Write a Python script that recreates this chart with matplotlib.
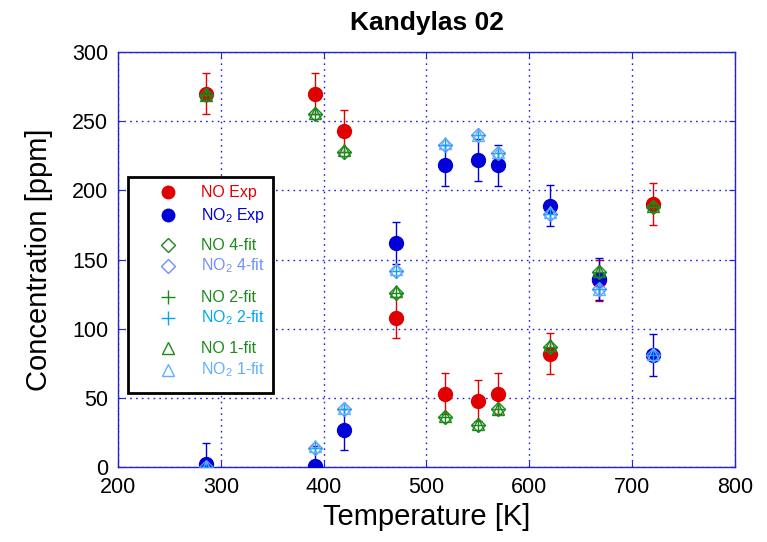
import matplotlib.pyplot as plt
from matplotlib.patches import Rectangle

plt.rcParams['font.family'] = ['Liberation Sans', 'DejaVu Sans']
plt.rcParams['mathtext.fontset'] = 'custom'
plt.rcParams['mathtext.rm'] = 'Liberation Sans'
plt.rcParams['mathtext.it'] = 'Liberation Sans'

# ---- data ----
temp = [286, 392, 420, 470, 518, 550, 570, 620, 668, 720]
no_exp = [270, 270, 243, 108, 53, 48, 53, 82, 135, 190]
no2_exp = [2, 0.5, 27, 162, 218, 222, 218, 189, 136, 81]
err = [15, 15, 15, 15, 15, 15, 15, 15, 15, 15]
no_fit4 = [269, 255, 228, 126, 36, 30, 42, 87, 141, 188]
no2_fit4 = [0, 14, 42, 142, 233, 240, 227, 183, 129, 81]
no_fit2 = [269, 255, 228, 126, 36, 30, 42, 87, 141, 188]
no2_fit2 = [0, 14, 42, 142, 233, 240, 227, 183, 129, 81]
no_fit1 = [269, 256, 229, 127, 37, 31, 42, 88, 142, 189]
no2_fit1 = [0, 15, 43, 143, 234, 240, 228, 184, 129, 82]

red = '#e00000'
blue = '#0000d8'
green = '#1a8a1a'
lblue4 = '#7090ff'
cyan2 = '#00a8f0'
lblue1 = '#60b0ff'
gridc = '#2020e0'

fig = plt.figure(figsize=(7.67, 5.42), dpi=100)
ax = fig.add_axes([0.1538, 0.1384, 0.8045, 0.7656])

# experiments with error bars
ax.errorbar(temp, no_exp, yerr=err, fmt='o', color=red, ecolor=red, ms=10,
            elinewidth=1, capsize=3, zorder=3)
ax.errorbar(temp, no2_exp, yerr=err, fmt='o', color=blue, ecolor=blue, ms=10,
            elinewidth=1, capsize=3, zorder=3)

# fits
ax.plot(temp, no_fit4, 'D', mfc='none', mec=green, ms=7, mew=1, zorder=4)
ax.plot(temp, no2_fit4, 'D', mfc='none', mec=lblue4, ms=7, mew=1, zorder=4)
ax.plot(temp, no_fit2, '+', color=green, ms=10, mew=1, zorder=4)
ax.plot(temp, no2_fit2, '+', color=cyan2, ms=10, mew=1, zorder=4)
ax.plot(temp, no_fit1, '^', mfc='none', mec=green, ms=9, mew=1, zorder=4)
ax.plot(temp, no2_fit1, '^', mfc='none', mec=lblue1, ms=9, mew=1, zorder=4)

ax.set_xlim(200, 800)
ax.set_ylim(0, 300)
ax.set_xticks(range(200, 801, 100))
ax.set_yticks(range(0, 301, 50))
ax.grid(True, color=gridc, linestyle=(0, (1.2, 3)), linewidth=1)
ax.set_axisbelow(True)
for s in ax.spines.values():
    s.set_color(gridc)
    s.set_linewidth(1)
ax.tick_params(direction='in', length=4, color=gridc, labelsize=15.5,
               top=True, right=True, labelcolor='black', pad=7)

ax.set_title('Kandylas 02', fontsize=19, fontweight='bold', pad=16)
ax.set_xlabel('Temperature [K]', fontsize=21, labelpad=4)
ax.set_ylabel('Concentration [ppm]', fontsize=21, labelpad=14)

# legend box drawn by hand (grouped rows)
tr = ax.transAxes
x0, x1 = 10 / 617, 155 / 617
ytop, ybot = 1 - (177 - 52) / 415, 1 - (393 - 52) / 415
ax.add_patch(Rectangle((x0, ybot), x1 - x0, ytop - ybot, transform=tr,
                       facecolor='white', edgecolor='black', lw=2, zorder=5))
entries = [
    (192, 'o', red, True, 'NO Exp', 9),
    (215, 'o', blue, True, 'NO$_2$ Exp', 9),
    (245, 'D', green, False, 'NO 4-fit', 7),
    (266, 'D', lblue4, False, 'NO$_2$ 4-fit', 7),
    (297, '+', green, False, 'NO 2-fit', 10),
    (318, '+', cyan2, False, 'NO$_2$ 2-fit', 10),
    (348, '^', green, False, 'NO 1-fit', 9),
    (370, '^', lblue1, False, 'NO$_2$ 1-fit', 9),
]
for ypx, mk, col, filled, lab, ms in entries:
    yy = 1 - (ypx - 52) / 415
    ax.plot([50 / 617], [yy], mk, transform=tr, ms=ms, mew=1,
            color=col, mfc=col if filled else 'none', mec=col, zorder=6,
            clip_on=False)
    ax.text(83 / 617, yy, lab, transform=tr, color=col, fontsize=11.5,
            va='center', ha='left', zorder=6)

fig.savefig('out.png', dpi=100)
